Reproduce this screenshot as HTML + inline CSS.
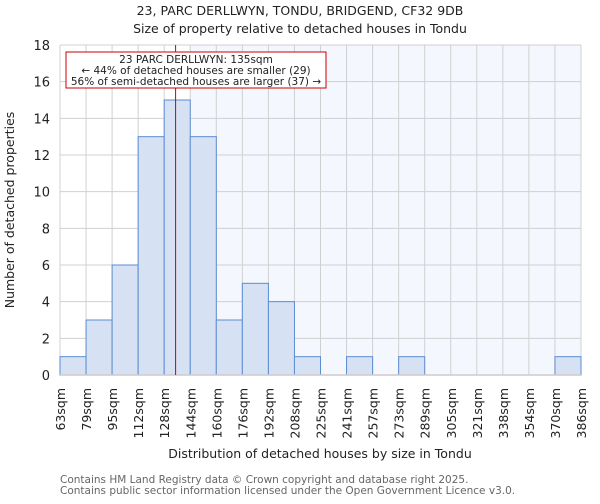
<!DOCTYPE html>
<html><head><meta charset="utf-8"><style>
body{margin:0;background:#fff;font-family:"DejaVu Sans","Liberation Sans",sans-serif;}
svg text{font-family:"DejaVu Sans","Liberation Sans",sans-serif;}
</style></head><body>
<svg id="c" width="600" height="500" xmlns="http://www.w3.org/2000/svg">
<text x="300" y="15" text-anchor="middle" font-size="12.5" fill="#222">23, PARC DERLLWYN, TONDU, BRIDGEND, CF32 9DB</text>
<text x="300" y="33" text-anchor="middle" font-size="12.5" fill="#222">Size of property relative to detached houses in Tondu</text>
<g id="plot"></g>
<text transform="translate(14,210) rotate(-90)" text-anchor="middle" font-size="12.5" fill="#222">Number of detached properties</text>
<text x="320" y="458" text-anchor="middle" font-size="12.5" fill="#222">Distribution of detached houses by size in Tondu</text>
<text x="60" y="483" font-size="10.5" fill="#666">Contains HM Land Registry data © Crown copyright and database right 2025.</text>
<text x="60" y="494" font-size="10.5" fill="#666">Contains public sector information licensed under the Open Government Licence v3.0.</text>
</svg>
<script>
const binLabels=["63sqm","79sqm","95sqm","112sqm","128sqm","144sqm","160sqm","176sqm","192sqm","208sqm","225sqm","241sqm","257sqm","273sqm","289sqm","305sqm","321sqm","338sqm","354sqm","370sqm","386sqm"];
const counts=[1,3,6,13,15,13,3,5,4,1,0,1,0,1,0,0,0,0,0,1];
const yTicks=[0,2,4,6,8,10,12,14,16,18];
const subjectSize=135;
const binEdges=[63,79,95,112,128,144,160,176,192,208,225,241,257,273,289,305,321,338,354,370,386];
const X0=60,X1=581,Y0=375,Y1=45,YMAX=18;
const n=counts.length,bw=(X1-X0)/n;
const xi=i=>X0+i*bw;
const y=v=>Y0-(v/YMAX)*(Y0-Y1);
function xs(s){for(let i=0;i<binEdges.length-1;i++){if(s<=binEdges[i+1])return xi(i)+(s-binEdges[i])/(binEdges[i+1]-binEdges[i])*bw;}return X1;}
const NS="http://www.w3.org/2000/svg";
const g=document.getElementById('plot');
function mk(t,a){const e=document.createElementNS(NS,t);for(const k in a)e.setAttribute(k,a[k]);g.appendChild(e);return e;}
const sx=xs(subjectSize);
let bgs=xi(Math.ceil((sx-X0)/bw));
let e=mk('rect',{x:bgs,y:Y1,width:X1-bgs,height:Y0-Y1,fill:'#f4f7fd'});


for(let i=0;i<=n;i++){e=mk('line',{x1:xi(i),x2:xi(i),y1:Y1,y2:Y0,stroke:'#d0d0d0','stroke-width':1});

}
yTicks.forEach(t=>{e=mk('line',{x1:X0,x2:X1,y1:y(t),y2:y(t),stroke:'#d0d0d0','stroke-width':1});


e=mk('text',{x:X0-10,y:y(t)+5,'text-anchor':'end','font-size':13,fill:'#222'});e.textContent=t;

});
counts.forEach((c,i)=>{if(c<=0)return;e=mk('rect',{x:xi(i),y:y(c),width:bw,height:Y0-y(c),fill:'#d6e1f3',stroke:'#5b8dd1','stroke-width':1});

});
e=mk('line',{x1:X0,x2:X1,y1:Y0,y2:Y0,stroke:'#ccc','stroke-width':1.5});


binLabels.forEach((l,i)=>{const x=xi(i);e=mk('text',{transform:`translate(${x+5},388) rotate(-90)`,'text-anchor':'end','font-size':12.5,fill:'#222'});e.textContent=l;

});
e=mk('line',{x1:sx,x2:sx,y1:Y1,y2:Y0,stroke:'#cc0000','stroke-width':1});


e=mk('rect',{x:66,y:52,width:260,height:36,fill:'#fff',stroke:'#cc0000','stroke-width':1});


["23 PARC DERLLWYN: 135sqm","← 44% of detached houses are smaller (29)","56% of semi-detached houses are larger (37) →"].forEach((t,k)=>{e=mk('text',{x:196,y:63+k*11,'text-anchor':'middle','font-size':10.5,fill:'#222'});e.textContent=t;

});
</script>
</body></html>
